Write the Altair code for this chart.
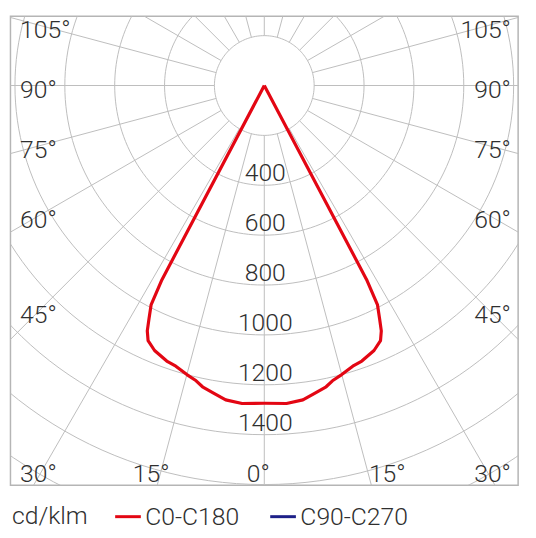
import altair as alt
import numpy as np
import pandas as pd

# ---------------- data ----------------
UNIT = "cd/klm"
SERIES = ["C0-C180", "C90-C270"]
SERIES_COLORS = ["#e30613", "#1d2088"]

# gamma angle (deg from nadir) and intensity (cd/klm) of the C0-C180 curve
GAMMA = [0, 4, 7, 9.2, 11.6, 13, 15, 17.5, 19.5, 22.5, 24.5, 25.5, 26.3, 27.3, 27.8, 28.5]
C0 = [1274, 1278, 1270, 1251, 1233, 1215, 1200, 1180, 1172, 1150, 1124, 1090, 1044, 990, 880, 0]
C180 = [1274, 1278, 1270, 1251, 1233, 1215, 1200, 1180, 1172, 1150, 1124, 1090, 1044, 990, 880, 0]

RINGS = [200, 400, 600, 800, 1000, 1200, 1400, 1600, 1800]
RING_LABELS = [400, 600, 800, 1000, 1200, 1400]
SPOKES = list(range(0, 360, 15))
SIDE_ANGLES = [105, 90, 75, 60, 45, 30]
BOTTOM_ANGLES = [15, 0, 15]

# ---------------- layout ----------------
W, H = 514, 475
X_DOM = [-1018, 1018]
Y_DOM = [-1603, 278]
PX = W / (X_DOM[1] - X_DOM[0])  # px per cd
FONT = "Roboto, DejaVu Sans Condensed, sans-serif"
FW = 300
TXT = "#2f2f2f"
GRID = "#bdbdbd"
FS = 25

xs = alt.Scale(domain=X_DOM, nice=False, zero=False)
ys = alt.Scale(domain=Y_DOM, nice=False, zero=False)
X = lambda f: alt.X(f, type="quantitative", scale=xs, axis=None)
Y = lambda f: alt.Y(f, type="quantitative", scale=ys, axis=None)

# rings
ring_rows = []
for r in RINGS:
    for i, t in enumerate(np.arange(0, 361, 2)):
        ring_rows.append({"r": r, "t": float(t), "i": i})
rings = alt.Chart(pd.DataFrame(ring_rows)).transform_calculate(
    x="datum.r*sin(datum.t*PI/180)", y="-datum.r*cos(datum.t*PI/180)"
).mark_line(color=GRID, strokeWidth=1, clip=True).encode(
    x=X("x"), y=Y("y"), detail="r:N", order="i:Q"
)

# spokes
spokes = alt.Chart(pd.DataFrame({"a": SPOKES})).transform_calculate(
    x1=f"{RINGS[0]}*sin(datum.a*PI/180)", y1=f"-{RINGS[0]}*cos(datum.a*PI/180)",
    x2="3000*sin(datum.a*PI/180)", y2="-3000*cos(datum.a*PI/180)"
).mark_rule(color=GRID, strokeWidth=1, clip=True).encode(
    x=X("x1"), y=Y("y1"), x2="x2:Q", y2="y2:Q"
)

# ring value labels
vlab = alt.Chart(pd.DataFrame({"v": RING_LABELS})).transform_calculate(
    x="0", y="-datum.v", label="toString(datum.v)"
).mark_text(font=FONT, fontWeight=FW, fontSize=FS, color=TXT, align="center",
            baseline="alphabetic", dx=1, dy=-4).encode(
    x=X("x"), y=Y("y"), text="label:N"
)

# side angle labels
cx_px, cy_px = 256.8, 70.3  # centre in plot px
bottom_base = (cy_px - 471.5) / PX
side_rows = []
for a in SIDE_ANGLES:
    dy_px = 227 / np.tan(np.radians(a)) + 13
    y = max(-dy_px / PX, bottom_base)
    side_rows.append({"label": f"{a}°", "y": y})
side_df = pd.DataFrame(side_rows)
left = alt.Chart(side_df).transform_calculate(x=str((9.5 - cx_px) / PX)).mark_text(
    font=FONT, fontWeight=FW, fontSize=FS, color=TXT, align="left", baseline="alphabetic"
).encode(x=X("x"), y=Y("y"), text="label:N")
right = alt.Chart(side_df).transform_calculate(x=str((506.5 - cx_px) / PX)).mark_text(
    font=FONT, fontWeight=FW, fontSize=FS, color=TXT, align="right", baseline="alphabetic"
).encode(x=X("x"), y=Y("y"), text="label:N")

# bottom angle labels
BOTTOM_SIGN = [-1, 0, 1]
BOTTOM_DX = [-7, -6, 17]
brows = []
for a, s, d in zip(BOTTOM_ANGLES, BOTTOM_SIGN, BOTTOM_DX):
    lx = s * 401.2 * np.tan(np.radians(a)) / PX if s else 0.0
    brows.append({"label": f"{a}°", "x": lx + d / PX, "y": bottom_base})
bottom = alt.Chart(pd.DataFrame(brows)).mark_text(
    font=FONT, fontWeight=FW, fontSize=FS, color=TXT, align="center", baseline="alphabetic"
).encode(x=X("x"), y=Y("y"), text="label:N")

# curve
crow = []
k = 0
for g, v in reversed(list(zip(GAMMA, C180))):
    crow.append({"g": g, "v": v, "s": -1, "k": k, "series": SERIES[0]}); k += 1
for g, v in zip(GAMMA, C0):
    crow.append({"g": g, "v": v, "s": 1, "k": k, "series": SERIES[0]}); k += 1
curve = alt.Chart(pd.DataFrame(crow)).transform_calculate(
    x="datum.s*datum.v*sin(datum.g*PI/180)", y="-datum.v*cos(datum.g*PI/180)"
).mark_line(strokeWidth=3.2, strokeJoin="round").encode(
    x=X("x"), y=Y("y"), order="k:Q",
    color=alt.Color("series:N", scale=alt.Scale(domain=SERIES, range=SERIES_COLORS),
                    legend=alt.Legend(title=None, orient="none", legendX=104.5, legendY=492,
                                      direction="horizontal", symbolType="stroke",
                                      symbolSize=676, symbolStrokeWidth=3,
                                      labelFont=FONT, labelFontWeight=FW, labelFontSize=FS,
                                      labelColor=TXT, labelOffset=3, columnPadding=24,
                                      padding=0))
)

unit = alt.Chart(pd.DataFrame({"t": [UNIT]})).mark_text(
    font=FONT, fontWeight=FW, fontSize=FS, color=TXT, align="left", baseline="alphabetic"
).encode(x=alt.value(1.5), y=alt.value(514), text="t:N")

chart = alt.layer(rings, spokes, vlab, left, right, bottom, curve, unit).properties(
    width=W, height=H,
    autosize=alt.AutoSizeParams(type="none"),
    padding={"left": 2.5, "top": 5, "right": 10, "bottom": 45},
).configure_view(stroke="#b5b5b5", strokeWidth=1.5)

chart.save("out.html", embed_options={"renderer": "svg", "actions": False})
